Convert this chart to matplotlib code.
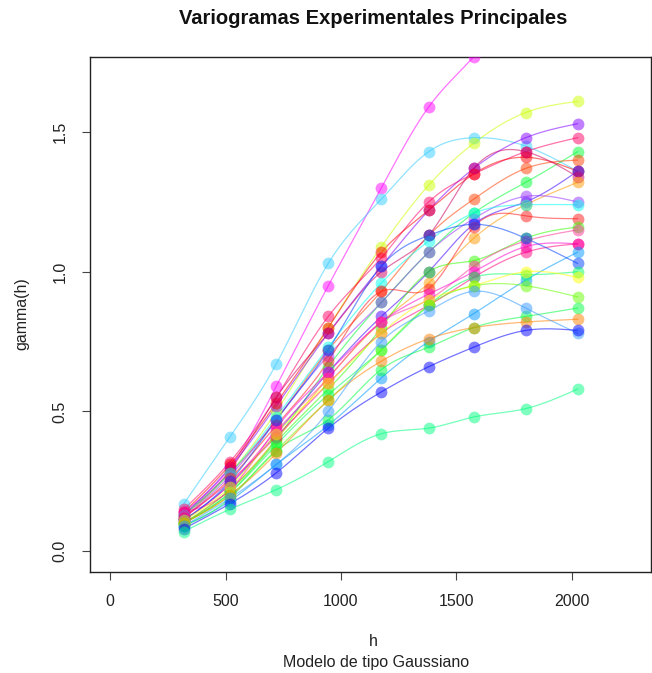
import numpy as np
import matplotlib
matplotlib.use("Agg")
import matplotlib.pyplot as plt

plt.rcParams['font.family'] = ['Liberation Sans', 'DejaVu Sans']

h = [320, 520, 720, 945, 1175, 1380, 1575, 1800, 2025]

s01 = [0.14, 0.30, 0.59, 0.95, 1.30, 1.59, 1.77, 2.00, 2.20]
s02 = [0.17, 0.41, 0.67, 1.03, 1.26, 1.43, 1.48, 1.45, 1.36]
s03 = [0.12, 0.28, 0.50, 0.80, 1.09, 1.31, 1.46, 1.57, 1.61]
s04 = [0.13, 0.30, 0.52, 0.78, 1.02, 1.22, 1.37, 1.48, 1.53]
s05 = [0.15, 0.32, 0.55, 0.84, 1.05, 1.25, 1.35, 1.43, 1.48]
s06 = [0.10, 0.22, 0.40, 0.66, 0.89, 1.07, 1.21, 1.32, 1.43]
s07 = [0.14, 0.31, 0.53, 0.80, 1.07, 1.22, 1.35, 1.41, 1.36]
s08 = [0.13, 0.28, 0.47, 0.72, 0.93, 1.13, 1.26, 1.37, 1.40]
s09 = [0.11, 0.24, 0.42, 0.64, 0.84, 1.00, 1.17, 1.25, 1.36]
s10 = [0.13, 0.29, 0.55, 0.78, 1.00, 1.13, 1.37, 1.43, 1.34]
s11 = [0.10, 0.22, 0.40, 0.62, 0.82, 0.96, 1.12, 1.24, 1.32]
s12 = [0.12, 0.27, 0.47, 0.70, 0.89, 1.07, 1.19, 1.27, 1.25]
s13 = [0.13, 0.28, 0.48, 0.73, 0.96, 1.11, 1.21, 1.24, 1.24]
s14 = [0.12, 0.26, 0.45, 0.68, 0.93, 0.94, 1.16, 1.20, 1.19]
s15 = [0.10, 0.21, 0.39, 0.58, 0.80, 1.00, 1.04, 1.12, 1.16]
s16 = [0.11, 0.24, 0.43, 0.62, 0.82, 0.90, 1.02, 1.11, 1.15]
s17 = [0.14, 0.22, 0.44, 0.64, 0.82, 0.92, 1.00, 1.09, 1.10]
s18 = [0.12, 0.25, 0.41, 0.60, 0.78, 0.88, 0.98, 1.07, 1.10]
s19 = [0.09, 0.18, 0.31, 0.45, 0.62, 0.75, 0.85, 0.97, 1.07]
s20 = [0.11, 0.25, 0.47, 0.72, 1.02, 1.13, 1.17, 1.12, 1.03]
s21 = [0.10, 0.21, 0.38, 0.56, 0.72, 0.88, 0.98, 0.99, 1.00]
s22 = [0.11, 0.23, 0.42, 0.60, 0.78, 0.90, 0.95, 1.00, 0.98]
s23 = [0.10, 0.20, 0.36, 0.54, 0.72, 0.88, 0.95, 0.95, 0.91]
s24 = [0.09, 0.19, 0.36, 0.47, 0.65, 0.73, 0.80, 0.84, 0.87]
s25 = [0.10, 0.20, 0.35, 0.54, 0.68, 0.76, 0.80, 0.82, 0.83]
s26 = [0.09, 0.19, 0.31, 0.50, 0.75, 0.86, 0.93, 0.87, 0.78]
s27 = [0.08, 0.17, 0.28, 0.44, 0.57, 0.66, 0.73, 0.79, 0.79]
s28 = [0.07, 0.15, 0.22, 0.32, 0.42, 0.44, 0.48, 0.51, 0.58]

series = [s01, s02, s03, s04, s05, s06, s07, s08, s09, s10, s11, s12, s13, s14,
          s15, s16, s17, s18, s19, s20, s21, s22, s23, s24, s25, s26, s27, s28]
colors = ['#FF00FF', '#33CCFF', '#CCFF00', '#8000FF', '#FF0066', '#00FF33', '#FF0000',
          '#FF4000', '#4000FF', '#CC0066', '#FF9900', '#9933FF', '#00FFEE', '#FF1A1A',
          '#33FF00', '#FF3399', '#FF00CC', '#FF0080', '#0099FF', '#0040FF', '#00FF66',
          '#FFFF00', '#66FF00', '#00FF40', '#FF8000', '#3399FF', '#0000FF', '#00FF80']


def natural_spline(x, y, n=200):
    x = np.asarray(x, float)
    y = np.asarray(y, float)
    m = len(x)
    hh = np.diff(x)
    A = np.zeros((m, m))
    b = np.zeros(m)
    A[0, 0] = 1
    A[-1, -1] = 1
    for i in range(1, m - 1):
        A[i, i - 1] = hh[i - 1]
        A[i, i] = 2 * (hh[i - 1] + hh[i])
        A[i, i + 1] = hh[i]
        b[i] = 3 * ((y[i + 1] - y[i]) / hh[i] - (y[i] - y[i - 1]) / hh[i - 1])
    c = np.linalg.solve(A, b)
    xs = np.linspace(x[0], x[-1], n)
    ys = np.empty_like(xs)
    for k, xv in enumerate(xs):
        i = min(np.searchsorted(x, xv, side='right') - 1, m - 2)
        dx = xv - x[i]
        bi = (y[i + 1] - y[i]) / hh[i] - hh[i] * (2 * c[i] + c[i + 1]) / 3
        di = (c[i + 1] - c[i]) / (3 * hh[i])
        ys[k] = y[i] + bi * dx + c[i] * dx ** 2 + di * dx ** 3
    return xs, ys


txt = '#222222'
fig = plt.figure(figsize=(6.52, 6.73), dpi=100)
ax = fig.add_axes([90 / 652, 1 - 572 / 673, 561 / 652, (572 - 57) / 673])

for s, col in zip(series, colors):
    xs, ys = natural_spline(h, s)
    ax.plot(xs, ys, color=col, alpha=0.55, lw=0.9, zorder=2)
    ax.plot(h, s, 'o', color=col, alpha=0.5, ms=8.5, mec='none', zorder=3)

ax.set_xlim(-87, 2343)
ax.set_ylim(-0.075, 1.769)
ax.set_xticks([0, 500, 1000, 1500, 2000])
ax.set_yticks([0.0, 0.5, 1.0, 1.5])
ax.set_yticklabels(['0.0', '0.5', '1.0', '1.5'], rotation=90, va='center')
ax.tick_params(axis='both', labelsize=11.5, length=6, width=0.8, color='#444444',
               labelcolor=txt, pad=10)
for sp in ax.spines.values():
    sp.set_linewidth(1.0)
    sp.set_color('#222222')

fig.text(373 / 652, 1 - 18 / 673, 'Variogramas Experimentales Principales',
         ha='center', va='center', fontsize=14.5, fontweight='bold', color='#111111')
fig.text(373 / 652, 1 - 642 / 673, 'h', ha='center', va='center', fontsize=11.5, color=txt)
fig.text(376 / 652, 1 - 662 / 673, 'Modelo de tipo Gaussiano', ha='center', va='center',
         fontsize=11.5, color=txt)
fig.text(22 / 652, 1 - 314 / 673, 'gamma(h)', ha='center', va='center', fontsize=11.5,
         rotation=90, color=txt)

fig.savefig('out.png', dpi=100)
